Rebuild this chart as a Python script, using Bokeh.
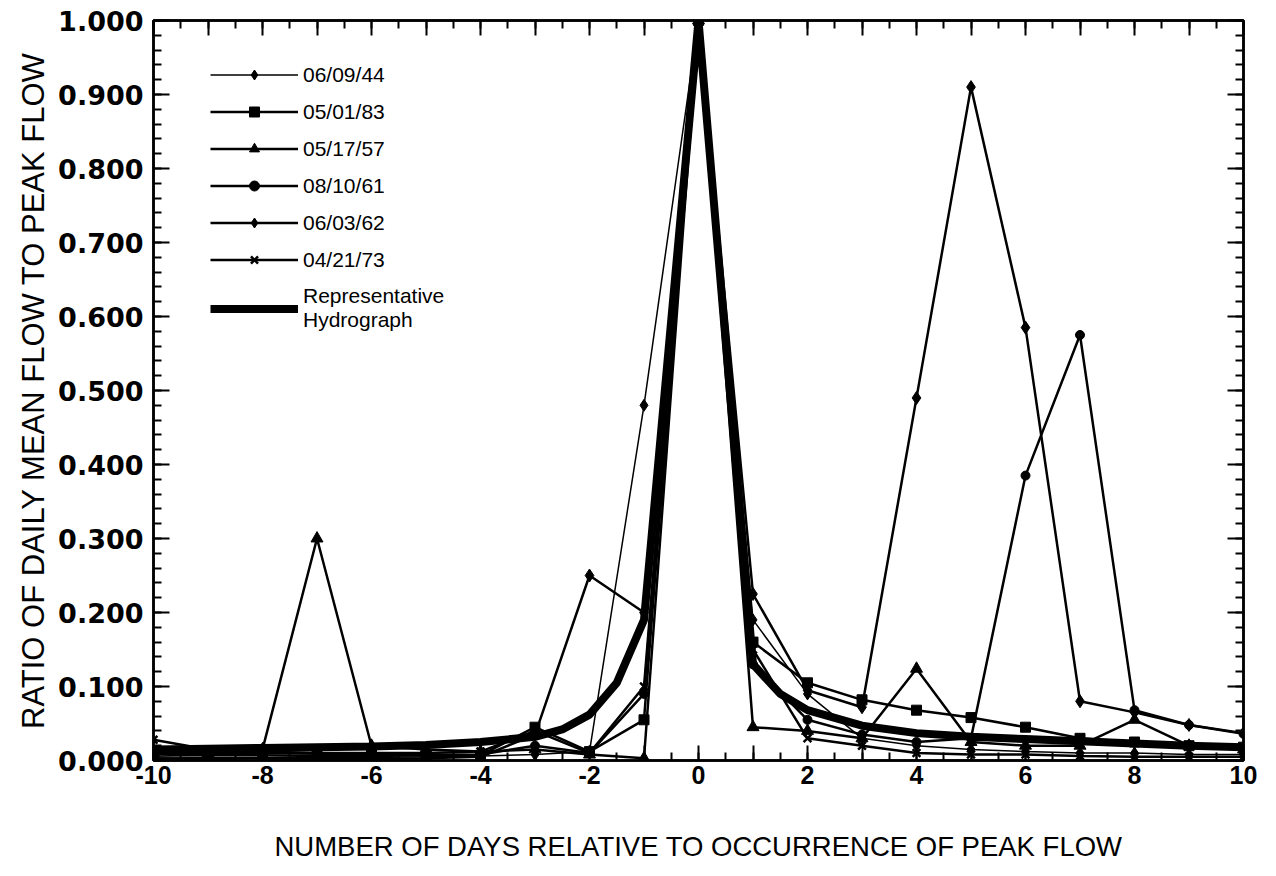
from bokeh.plotting import figure
from bokeh.models import (LinearAxis, SingleIntervalTicker, PrintfTickFormatter,
                          CustomJSTickFormatter, Legend, LegendItem, Range1d)
from bokeh.embed import file_html
from bokeh.resources import INLINE

# ---------------- data ----------------
days = list(range(-10, 11))

s_060944 = [0.005, 0.004, 0.004, 0.004, 0.004, 0.005, 0.006, 0.008, 0.012, 0.48, 1.0,
            0.19, 0.09, 0.03, 0.02, 0.015, 0.012, 0.010, 0.010, 0.008, 0.008]
s_050183 = [0.012, 0.010, 0.010, 0.009, 0.009, 0.008, 0.007, 0.045, 0.012, 0.055, 1.0,
            0.16, 0.105, 0.082, 0.068, 0.058, 0.045, 0.030, 0.025, 0.020, 0.018]
s_051757 = [0.010, 0.010, 0.015, 0.300, 0.020, 0.015, 0.012, 0.015, 0.008, 0.003, 1.0,
            0.045, 0.040, 0.030, 0.124, 0.025, 0.020, 0.020, 0.055, 0.020, 0.015]
s_081061 = [0.008, 0.007, 0.007, 0.006, 0.006, 0.007, 0.008, 0.020, 0.010, 0.090, 1.0,
            0.13, 0.055, 0.035, 0.025, 0.030, 0.385, 0.575, 0.068, 0.048, 0.036]
s_060362 = [0.003, 0.002, 0.003, 0.002, 0.002, 0.003, 0.005, 0.035, 0.250, 0.200, 1.0,
            0.225, 0.095, 0.072, 0.490, 0.910, 0.585, 0.080, 0.065, 0.048, 0.037]
s_042173 = [0.028, 0.015, 0.012, 0.010, 0.010, 0.010, 0.012, 0.040, 0.010, 0.100, 1.0,
            0.150, 0.030, 0.020, 0.010, 0.008, 0.008, 0.006, 0.005, 0.005, 0.005]

rep_days = [-10, -9, -8, -7, -6, -5, -4, -3, -2.5, -2, -1.5, -1, 0,
            1, 1.5, 2, 3, 4, 5, 6, 7, 8, 9, 10]
rep_vals = [0.015, 0.016, 0.017, 0.018, 0.019, 0.021, 0.025, 0.032, 0.042, 0.062, 0.105, 0.19, 1.0,
            0.13, 0.09, 0.068, 0.047, 0.037, 0.032, 0.029, 0.026, 0.023, 0.020, 0.018]

series_names = ["06/09/44", "05/01/83", "05/17/57", "08/10/61", "06/03/62", "04/21/73"]
series_vals = [s_060944, s_050183, s_051757, s_081061, s_060362, s_042173]
series_markers = ["diamond", "square", "triangle", "circle", "diamond", "x"]
series_msize = [12, 10, 12, 9, 13, 11]
series_lw = [1.5, 2.5, 2.5, 2.5, 2.5, 2.5]

x_tick_labels = {d: (str(d) if d % 2 == 0 else "") for d in days}

FONT = "Liberation Sans"
YFONT = "DejaVu Sans"

# ---------------- figure ----------------
p = figure(frame_width=1090, frame_height=740,
           x_range=Range1d(-10, 10), y_range=Range1d(0, 1.0),
           output_backend="svg", toolbar_location=None,
           min_border_left=153, min_border_right=17, min_border_top=20, min_border_bottom=100,
           x_axis_location=None, y_axis_location=None)
p.grid.visible = False
p.outline_line_color = "black"
p.outline_line_width = 2.5
p.background_fill_color = "white"
p.border_fill_color = "white"

blank = CustomJSTickFormatter(code="return ''")


def style_ticks(ax, major_len):
    ax.axis_line_width = 2.5
    ax.major_tick_in = major_len
    ax.major_tick_out = 0
    ax.minor_tick_in = 8
    ax.minor_tick_out = 0
    ax.major_tick_line_width = 2
    ax.minor_tick_line_width = 2
    ax.major_label_text_color = "black"


def make_x_axis(show_labels):
    ax = LinearAxis(ticker=SingleIntervalTicker(interval=1, num_minor_ticks=2))
    style_ticks(ax, 15)
    if show_labels:
        ax.major_label_overrides = dict(x_tick_labels)
        ax.major_label_text_font = FONT
        ax.major_label_text_font_style = "bold"
        ax.major_label_text_font_size = "25px"
        ax.major_label_standoff = 5
        ax.axis_label = "NUMBER OF DAYS RELATIVE TO OCCURRENCE OF PEAK FLOW"
        ax.axis_label_text_font = FONT
        ax.axis_label_text_font_size = "27.5px"
        ax.axis_label_text_font_style = "normal"
        ax.axis_label_text_color = "black"
        ax.axis_label_standoff = 44
    else:
        ax.formatter = blank
        ax.major_label_standoff = 0
    return ax


def make_y_axis(show_labels):
    ax = LinearAxis(ticker=SingleIntervalTicker(interval=0.1, num_minor_ticks=5))
    style_ticks(ax, 16)
    if show_labels:
        ax.formatter = PrintfTickFormatter(format="%.3f")
        ax.major_label_text_font = YFONT
        ax.major_label_text_font_style = "bold"
        ax.major_label_text_font_size = "27px"
        ax.major_label_standoff = 10
        ax.axis_label = "RATIO OF DAILY MEAN FLOW TO PEAK FLOW"
        ax.axis_label_text_font = FONT
        ax.axis_label_text_font_size = "31px"
        ax.axis_label_text_font_style = "normal"
        ax.axis_label_text_color = "black"
        ax.axis_label_standoff = 4
    else:
        ax.formatter = blank
        ax.major_label_standoff = 0
    return ax


p.add_layout(make_x_axis(True), "below")
p.add_layout(make_x_axis(False), "above")
p.add_layout(make_y_axis(True), "left")
p.add_layout(make_y_axis(False), "right")

items = []
for name, vals, mk, ms, lw in zip(series_names, series_vals, series_markers, series_msize, series_lw):
    lr = p.line(days, vals, line_color="black", line_width=lw)
    if mk == "x":
        sr = p.scatter(days, vals, marker=mk, size=ms, line_color="black", line_width=2.5)
    else:
        sr = p.scatter(days, vals, marker=mk, size=ms, fill_color="black", line_color="black")
    items.append(LegendItem(label=name, renderers=[lr, sr]))

rr = p.line(rep_days, rep_vals, line_color="black", line_width=8)
items.append(LegendItem(label="Representative\nHydrograph", renderers=[rr]))

legend = Legend(items=items, location=(57, 428))
legend.background_fill_alpha = 0
legend.border_line_alpha = 0
legend.padding = 0
legend.margin = 0
legend.glyph_width = 88
legend.glyph_height = 25
legend.label_height = 25
legend.spacing = 12
legend.label_standoff = 5
legend.label_text_font = FONT
legend.label_text_font_size = "21px"
legend.label_text_color = "black"
legend.label_text_line_height = 1.05
p.add_layout(legend, "center")

open("out.html", "w").write(file_html(p, INLINE))
